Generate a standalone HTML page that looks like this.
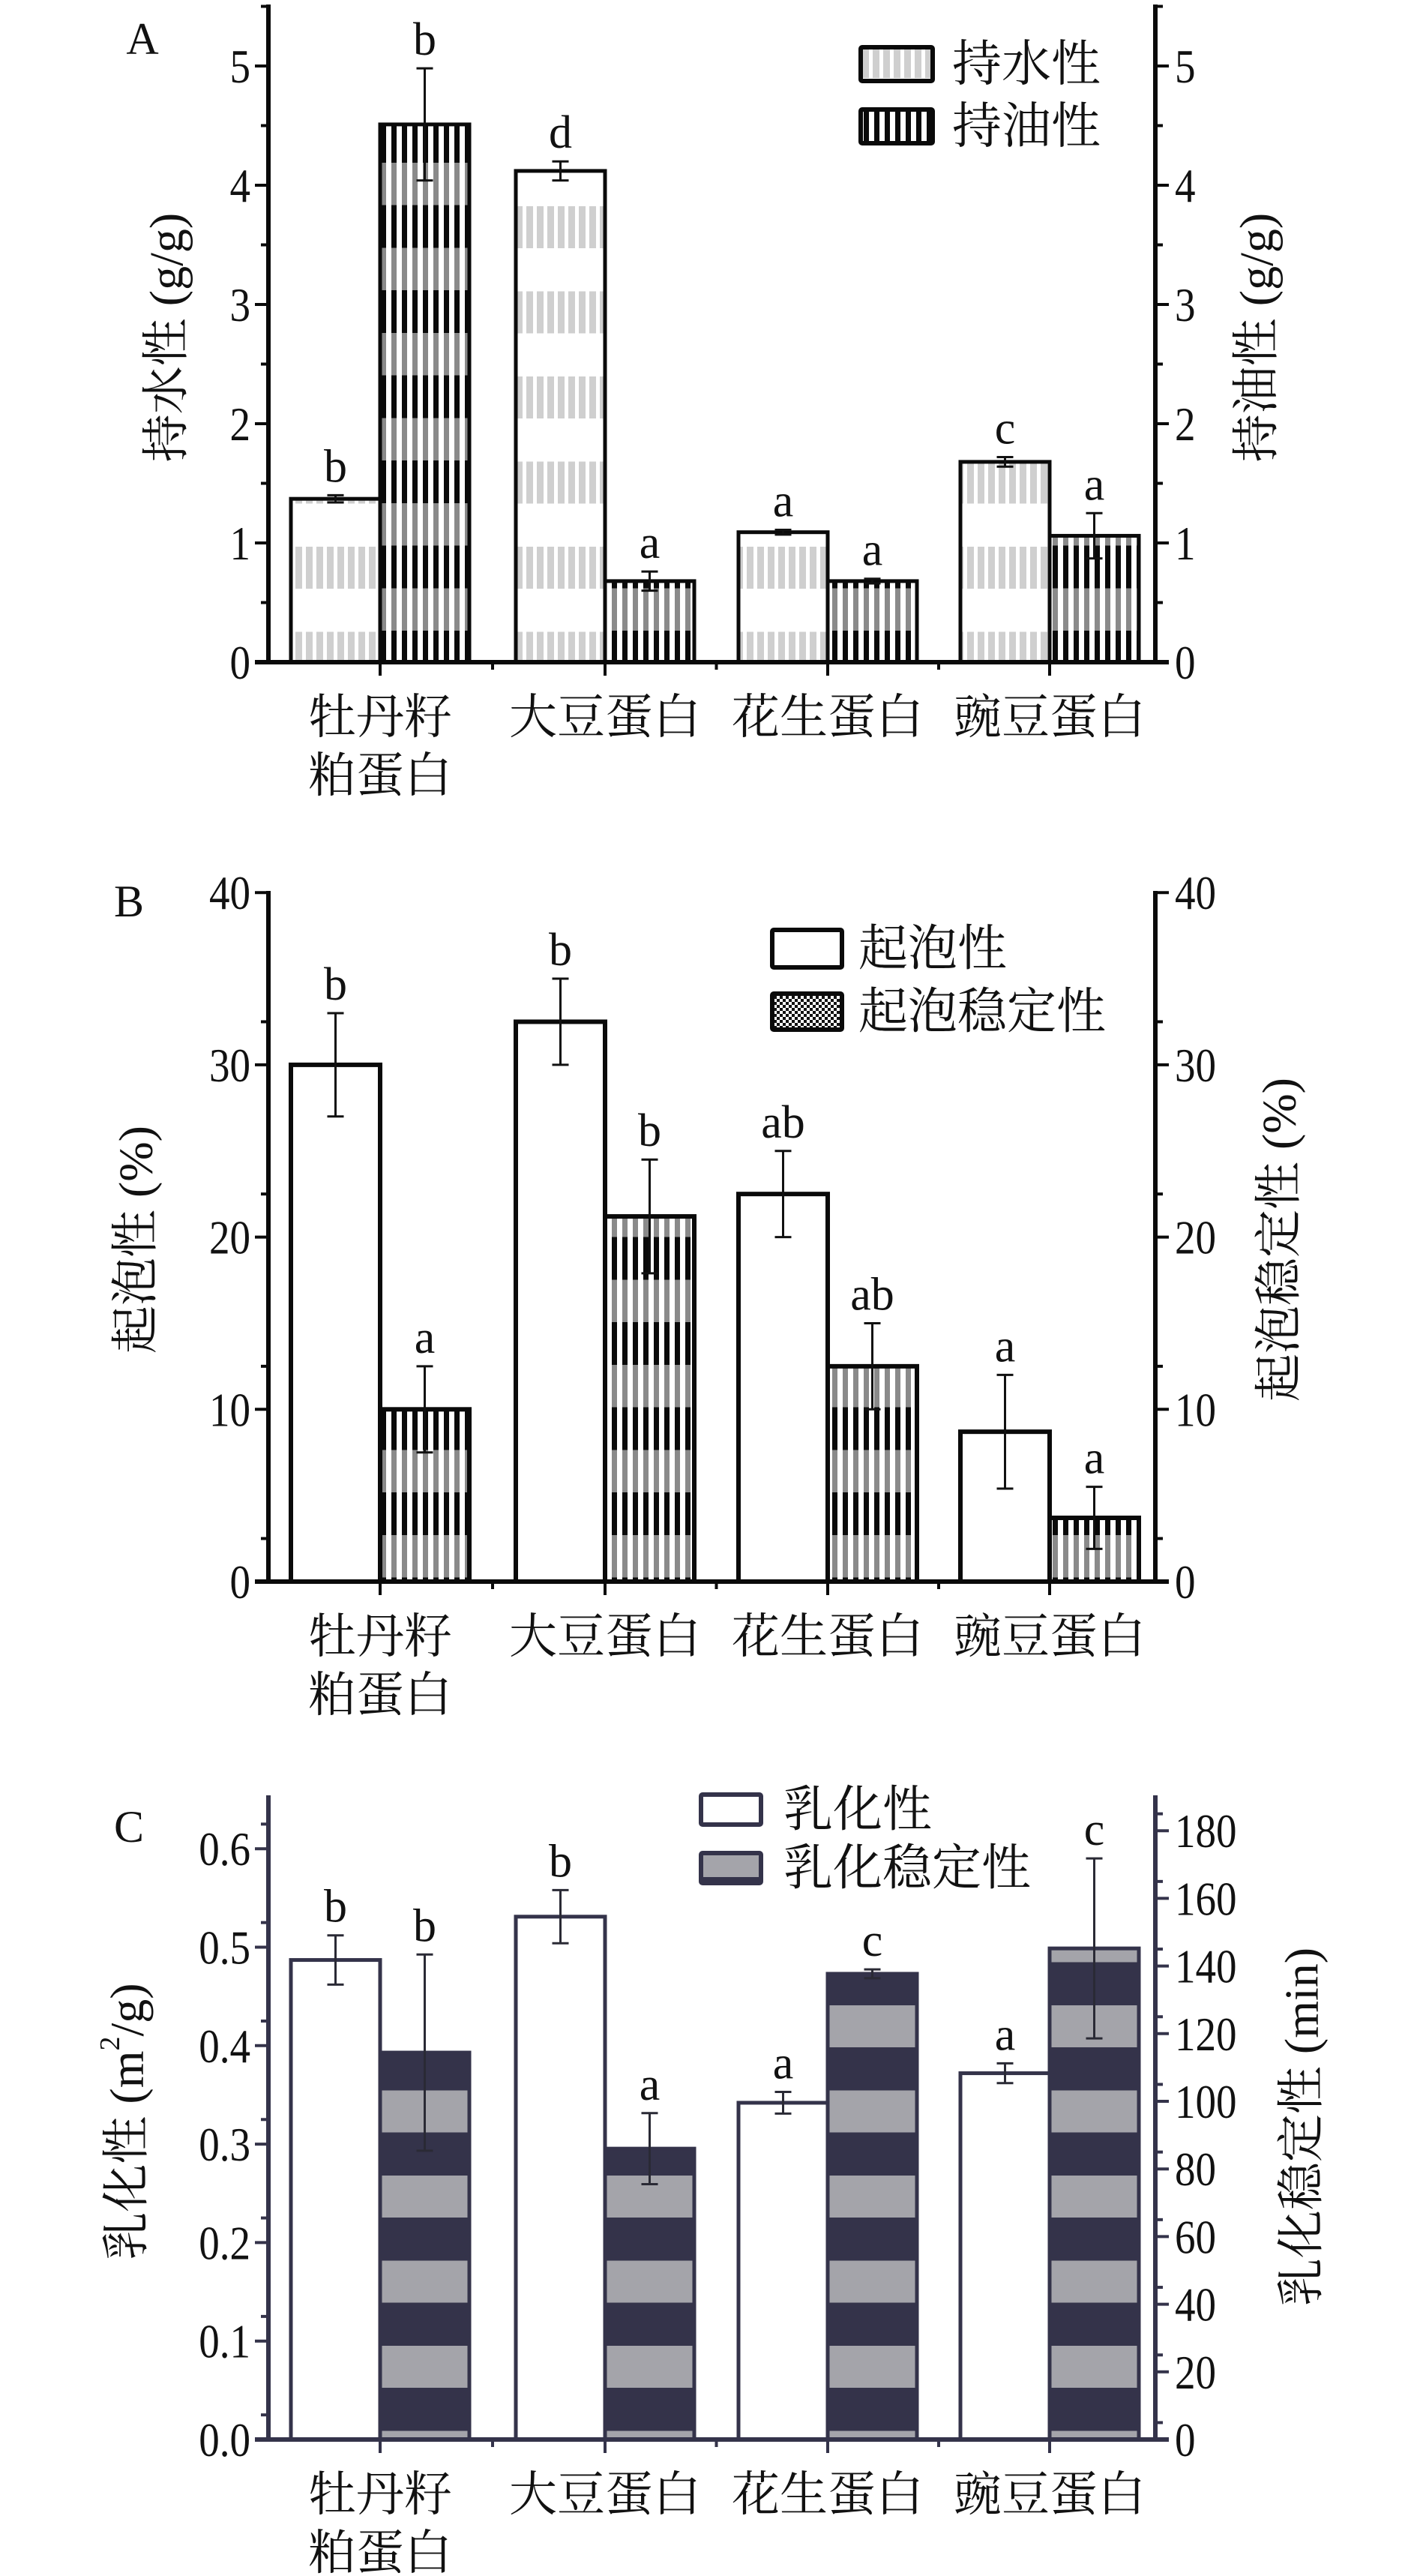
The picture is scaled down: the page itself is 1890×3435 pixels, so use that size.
<!DOCTYPE html>
<html><head><meta charset="utf-8">
<style>
html,body{margin:0;padding:0;background:#fff;}
svg{display:block;}
text{font-family:"Liberation Serif","Noto Serif CJK SC",serif;}
</style></head>
<body>
<svg id="fig" width="1890" height="3435" viewBox="0 0 1890 3435" xmlns="http://www.w3.org/2000/svg">
<defs>
  <pattern id="waterA" patternUnits="userSpaceOnUse" x="0" y="48" width="14" height="113.5">
    <rect x="0" y="0" width="14" height="113.5" fill="#fff"/>
    <rect x="2" y="0" width="9" height="56" fill="#cfcfcf"/>
  </pattern>
  <pattern id="oilA" patternUnits="userSpaceOnUse" x="4" y="46.5" width="14" height="113.5">
    <rect x="0" y="0" width="14" height="113.5" fill="#fff"/>
    <rect x="0" y="0" width="7" height="57" fill="#0a0a0a"/>
    <rect x="0" y="57" width="7" height="56.5" fill="#8a8a8a"/>
  </pattern>
  <pattern id="stabB" patternUnits="userSpaceOnUse" x="4" y="-53" width="14" height="113.5">
    <rect x="0" y="0" width="14" height="113.5" fill="#fff"/>
    <rect x="0" y="0" width="7" height="57" fill="#0a0a0a"/>
    <rect x="0" y="57" width="7" height="56.5" fill="#8a8a8a"/>
  </pattern>
  <pattern id="stabC" patternUnits="userSpaceOnUse" x="0" y="63.5" width="14" height="113.5">
    <rect x="0" y="0" width="14" height="113.5" fill="#34334a"/>
    <rect x="0" y="0" width="14" height="56" fill="#a4a4aa"/>
  </pattern>
  <pattern id="legOil" patternUnits="userSpaceOnUse" x="1152" y="0" width="14" height="10">
    <rect x="0" y="0" width="14" height="10" fill="#fff"/>
    <rect x="0" y="0" width="7" height="10" fill="#0a0a0a"/>
  </pattern>
  <pattern id="legStabB" patternUnits="userSpaceOnUse" width="8" height="8">
    <rect width="8" height="8" fill="#fff"/>
    <rect width="4" height="4" fill="#111"/><rect x="4" y="4" width="4" height="4" fill="#111"/>
  </pattern>
</defs>
<g id="root"></g>
</svg>
<script>
const categories = ['牡丹籽|粕蛋白', '大豆蛋白', '花生蛋白', '豌豆蛋白'];

const waterVals = [1.37, 4.12, 1.09, 1.68];
const waterErr = [0.03, 0.08, 0.02, 0.04];
const waterLetters = ['b', 'd', 'a', 'c'];
const oilVals = [4.51, 0.68, 0.68, 1.06];
const oilErr = [0.47, 0.08, 0.02, 0.19];
const oilLetters = ['b', 'a', 'a', 'a'];
const ticksA = ['0', '1', '2', '3', '4', '5'];

const foamVals = [30, 32.5, 22.5, 8.7];
const foamErr = [3, 2.5, 2.5, 3.3];
const foamLetters = ['b', 'b', 'ab', 'a'];
const foamStabVals = [10, 21.2, 12.5, 3.7];
const foamStabErr = [2.5, 3.3, 2.5, 1.8];
const foamStabLetters = ['a', 'b', 'ab', 'a'];
const ticksB = ['0', '10', '20', '30', '40'];

const emulVals = [0.487, 0.531, 0.342, 0.372];
const emulErr = [0.025, 0.027, 0.011, 0.010];
const emulLetters = ['b', 'b', 'a', 'a'];
const emulStabVals = [114.4, 86, 137.7, 145.2];
const emulStabErr = [29, 10.5, 1.3, 26.6];
const emulStabLetters = ['b', 'a', 'c', 'c'];
const ticksCL = ['0.0', '0.1', '0.2', '0.3', '0.4', '0.5', '0.6'];
const ticksCR = ['0', '20', '40', '60', '80', '100', '120', '140', '160', '180'];

const NS = 'http://www.w3.org/2000/svg';
const root = document.getElementById('root');
function el(tag, attrs, parent) {
  const e = document.createElementNS(NS, tag);
  for (const k in attrs) e.setAttribute(k, attrs[k]);
  (parent || root).appendChild(e);
  return e;
}
const XL = 358, XR = 1541;
const centers = [507, 807, 1104, 1400];
const BW = 119;

function numText(x, y, anchor, str, g) {
  // condensed Times-like numerals
  const t = el('text', {x: 0, y: 0, 'font-size': 64, 'text-anchor': anchor, fill: '#111', transform: `translate(${x},${y}) scale(0.86,1)`}, g);
  t.textContent = str;
  return t;
}

function drawPanel(p) {
  const g = el('g', {});
  
  
  const yL = v => p.y0 - v * p.pxL;
  const yR = v => p.y0 - v * p.pxR;
  const col = p.axisColor;
  for (let i = 0; i < categories.length; i++) {
    const c = centers[i];
    const r1 = el('rect', {x: c - BW, y: yL(p.v1[i]), width: BW, height: p.y0 - yL(p.v1[i]), fill: p.fill1, stroke: p.barStroke, 'stroke-width': p.sw}, g);
    
    
    const r2 = el('rect', {x: c, y: yR(p.v2[i]), width: BW, height: p.y0 - yR(p.v2[i]), fill: p.fill2, stroke: p.barStroke, 'stroke-width': p.sw}, g);
    
    
    const eb = [[c - BW / 2, p.v1[i], p.e1[i], yL, p.l1[i], p.s1], [c + BW / 2, p.v2[i], p.e2[i], yR, p.l2[i], p.s2]];
    eb.forEach(([x, v, e, ys, lab, s]) => {
      const eg = el('g', {stroke: p.errColor, 'stroke-width': 3, fill: 'none'}, g);
      
      
      el('line', {x1: x, x2: x, y1: ys(v + e), y2: ys(v - e)}, eg);
      el('line', {x1: x - 11, x2: x + 11, y1: ys(v + e), y2: ys(v + e)}, eg);
      el('line', {x1: x - 11, x2: x + 11, y1: ys(v - e), y2: ys(v - e)}, eg);
      const t = el('text', {x: x, y: ys(v + e) - 18, 'font-size': 62, 'text-anchor': 'middle', fill: '#111'}, g);
      t.textContent = lab;
      
      
    });
  }
  const ax = el('g', {stroke: col, 'stroke-width': 6, fill: 'none'}, g);
  
  
  el('line', {x1: XL, x2: XL, y1: p.yTop, y2: p.y0 + 3}, ax);
  el('line', {x1: XR, x2: XR, y1: p.yTop, y2: p.y0 + 3}, ax);
  el('line', {x1: XL - 18, x2: XR + 18, y1: p.y0, y2: p.y0}, ax);
  centers.forEach(c => el('line', {x1: c, x2: c, y1: p.y0, y2: p.y0 + 18, 'stroke-width': 4}, ax));
  for (let i = 0; i < 3; i++) {
    const m = (centers[i] + centers[i + 1]) / 2;
    el('line', {x1: m, x2: m, y1: p.y0, y2: p.y0 + 10, 'stroke-width': 4}, ax);
  }
  p.ticksL.forEach(lab => {
    const v = parseFloat(lab), y = yL(v);
    el('line', {x1: XL - 18, x2: XL, y1: y, y2: y, 'stroke-width': 4}, ax);
    const my = yL(v + p.stepL / 2);
    if (my > p.yTop) el('line', {x1: XL - 10, x2: XL, y1: my, y2: my, 'stroke-width': 4}, ax);
    const t = numText(XL - 24, y + 22, 'end', lab, g);
    
    
  });
  p.ticksR.forEach(lab => {
    const v = parseFloat(lab), y = yR(v);
    el('line', {x1: XR, x2: XR + 18, y1: y, y2: y, 'stroke-width': 4}, ax);
    const my = yR(v + p.stepR / 2);
    if (my > p.yTop) el('line', {x1: XR, x2: XR + 10, y1: my, y2: my, 'stroke-width': 4}, ax);
    const t = numText(XR + 26, y + 22, 'start', lab, g);
    
    
  });
  categories.forEach((c, i) => {
    c.split('|').forEach((line, j) => {
      const t = el('text', {x: centers[i], y: p.y0 + 95 + j * 78, 'font-size': 64, 'text-anchor': 'middle', fill: '#111'}, g);
      t.textContent = line;
      
      
    });
  });
  const tl = el('text', {x: 0, y: 0, 'font-size': 64, 'text-anchor': 'middle', fill: '#111', transform: `translate(${p.tLx},${p.tLy}) rotate(-90)`, 'dominant-baseline': 'central'}, g);
  tl.innerHTML = p.titleL;
  
  
  const tr = el('text', {x: 0, y: 0, 'font-size': 64, 'text-anchor': 'middle', fill: '#111', transform: `translate(${p.tRx},${p.tRy}) rotate(-90)`, 'dominant-baseline': 'central'}, g);
  tr.innerHTML = p.titleR;
  
  
  const pl = el('text', {x: p.lx, y: p.ly, 'font-size': 60, fill: '#111', 'text-anchor': 'middle'}, g);
  pl.textContent = p.letter;
  
  
  p.legend.forEach((L, k) => {
    const lg = el('g', {}, g);
    
    
    el('rect', {x: L.x, y: L.y, width: L.w, height: L.h, fill: L.fill, stroke: p.barStroke, 'stroke-width': 6, rx: 2}, lg);
    const t = el('text', {x: L.tx, y: L.y + L.h / 2 + 22, 'font-size': 66, fill: '#111'}, lg);
    t.textContent = L.text;
  });
}

drawPanel({
  name: 'panel-a-water-oil-holding', letter: 'A', lx: 190, ly: 72,
  y0: 883, yTop: 6, pxL: 159, pxR: 159, stepL: 1, stepR: 1,
  v1: waterVals, e1: waterErr, l1: waterLetters, s1: 'water-holding',
  v2: oilVals, e2: oilErr, l2: oilLetters, s2: 'oil-holding',
  fill1: 'url(#waterA)', fill2: 'url(#oilA)', barStroke: '#0a0a0a', sw: 5, axisColor: '#0a0a0a', errColor: '#111',
  ticksL: ticksA, ticksR: ticksA,
  titleL: '持水性 (g/g)', titleR: '持油性 (g/g)', tLx: 222, tLy: 450, tRx: 1676, tRy: 450,
  legend: [
    {x: 1148, y: 63, w: 96, h: 45, fill: 'url(#waterA)', tx: 1270, text: '持水性'},
    {x: 1148, y: 146, w: 96, h: 45, fill: 'url(#legOil)', tx: 1270, text: '持油性'}
  ]
});
drawPanel({
  name: 'panel-b-foaming', letter: 'B', lx: 172, ly: 1222,
  y0: 2109, yTop: 1188, pxL: 22.97, pxR: 22.97, stepL: 5, stepR: 5,
  v1: foamVals, e1: foamErr, l1: foamLetters, s1: 'foaming',
  v2: foamStabVals, e2: foamStabErr, l2: foamStabLetters, s2: 'foam-stability',
  fill1: '#fff', fill2: 'url(#stabB)', barStroke: '#0a0a0a', sw: 6, axisColor: '#0a0a0a', errColor: '#111',
  ticksL: ticksB, ticksR: ticksB,
  titleL: '起泡性 (%)', titleR: '起泡稳定性 (%)', tLx: 181, tLy: 1653, tRx: 1706, tRy: 1653,
  legend: [
    {x: 1030, y: 1240, w: 93, h: 50, fill: '#fff', tx: 1145, text: '起泡性'},
    {x: 1030, y: 1325, w: 93, h: 48, fill: 'url(#legStabB)', tx: 1145, text: '起泡稳定性'}
  ]
});
drawPanel({
  name: 'panel-c-emulsifying', letter: 'C', lx: 172, ly: 2456,
  y0: 3253, yTop: 2394, pxL: 1313, pxR: 4.51, stepL: 0.05, stepR: 10,
  v1: emulVals, e1: emulErr, l1: emulLetters, s1: 'emulsifying',
  v2: emulStabVals, e2: emulStabErr, l2: emulStabLetters, s2: 'emulsion-stability',
  fill1: '#fff', fill2: 'url(#stabC)', barStroke: '#34334a', sw: 5, axisColor: '#34334a', errColor: '#2a2a35',
  ticksL: ticksCL, ticksR: ticksCR,
  titleL: '乳化性 (m<tspan font-size="38" dy="-22">2</tspan><tspan dy="22">/g)</tspan>', titleR: '乳化稳定性 (min)', tLx: 169, tLy: 2829, tRx: 1736, tRy: 2836,
  legend: [
    {x: 935, y: 2393, w: 80, h: 40, fill: '#fff', tx: 1045, text: '乳化性'},
    {x: 935, y: 2471, w: 80, h: 40, fill: 'url(#stabC)', tx: 1045, text: '乳化稳定性'}
  ]
});
</script>
</body></html>
